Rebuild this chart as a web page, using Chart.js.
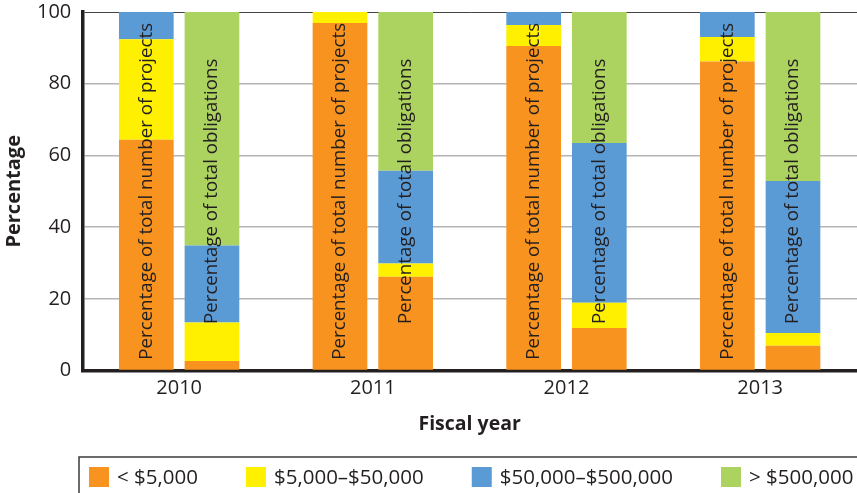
<!DOCTYPE html>
<html>
<head>
<meta charset="utf-8">
<script src="https://cdn.jsdelivr.net/npm/chart.js@4.4.1/dist/chart.umd.min.js"></script>
<style>
  html, body { margin: 0; padding: 0; background: #fff; }
  #wrap { width: 857px; height: 493px; }
</style>
</head>
<body>
<div id="wrap"><canvas id="fundChart" width="857" height="493"></canvas></div>
<script>
const years = ['2010', '2011', '2012', '2013'];
const sizeClasses = ['< $5,000', '$5,000\u2013$50,000', '$50,000\u2013$500,000', '> $500,000'];
const classColors = ['#f7931e', '#fff000', '#5b9bd5', '#acd35f'];

// share of total number of projects, by size class
const projUnder5k = [64.4, 96.9, 90.5, 86.2];
const proj5kTo50k = [28.0, 3.1, 5.9, 6.8];
const proj50kTo500k = [7.6, 0, 3.6, 7.0];
const projOver500k = [0, 0, 0, 0];

// share of total obligations, by size class
const oblUnder5k = [2.7, 26.2, 11.9, 6.9];
const obl5kTo50k = [10.7, 3.7, 7.0, 3.6];
const obl50kTo500k = [21.5, 25.8, 44.6, 42.4];
const oblOver500k = [65.1, 44.3, 36.5, 47.1];

const yTicks = [0, 20, 40, 60, 80, 100];
const barLabels = ['Percentage of total number of projects', 'Percentage of total obligations'];

const textFont = "'Open Sans', 'Noto Sans', sans-serif";
const ink = '#231f20';

function makeSet(label, data, idx, stack) {
  return {
    label: label,
    data: data,
    stack: stack,
    backgroundColor: classColors[idx],
    borderWidth: 0,
    categoryPercentage: 0.678,
    barPercentage: 0.833
  };
}

const datasets = [
  makeSet(sizeClasses[0], projUnder5k, 0, 'projects'),
  makeSet(sizeClasses[1], proj5kTo50k, 1, 'projects'),
  makeSet(sizeClasses[2], proj50kTo500k, 2, 'projects'),
  makeSet(sizeClasses[3], projOver500k, 3, 'projects'),
  makeSet(sizeClasses[0], oblUnder5k, 0, 'obligations'),
  makeSet(sizeClasses[1], obl5kTo50k, 1, 'obligations'),
  makeSet(sizeClasses[2], obl50kTo500k, 2, 'obligations'),
  makeSet(sizeClasses[3], oblOver500k, 3, 'obligations')
];

// vertical captions inside each bar column
const barTextPlugin = {
  id: 'barText',
  afterDatasetsDraw(chart) {
    const ctx = chart.ctx;
    const yMid = chart.scales.y.getPixelForValue(50);
    const firstOfStack = [0, 4];
    ctx.save();
    ctx.font = '18.7px ' + textFont;
    ctx.fillStyle = ink;
    ctx.textAlign = 'center';
    ctx.textBaseline = 'middle';
    firstOfStack.forEach((dsIndex, s) => {
      chart.getDatasetMeta(dsIndex).data.forEach(bar => {
        ctx.save();
        ctx.translate(bar.x, yMid);
        ctx.rotate(-Math.PI / 2);
        ctx.fillText(barLabels[s], 0, 0);
        ctx.restore();
      });
    });
    ctx.restore();
  }
};

// boxed legend row along the bottom (one entry per size class)
const legendRowPlugin = {
  id: 'legendRow',
  afterDraw(chart) {
    const ctx = chart.ctx;
    const top = chart.height - 36;
    const midY = top + 20;
    ctx.save();
    ctx.strokeStyle = '#3a3a3a';
    ctx.lineWidth = 1.5;
    ctx.beginPath();
    ctx.moveTo(79, chart.height + 2);
    ctx.lineTo(79, top);
    ctx.lineTo(chart.width + 2, top);
    ctx.stroke();

    ctx.font = '20.5px ' + textFont;
    ctx.textBaseline = 'middle';
    ctx.textAlign = 'left';
    let x = 89;
    sizeClasses.forEach((label, i) => {
      ctx.fillStyle = classColors[i];
      ctx.fillRect(x, midY - 10, 20, 20);
      ctx.fillStyle = ink;
      ctx.fillText(label, x + 28, midY + 1);
      x += 28 + ctx.measureText(label).width + 48;
    });
    ctx.restore();
  }
};

new Chart(document.getElementById('fundChart').getContext('2d'), {
  type: 'bar',
  data: { labels: years, datasets: datasets },
  plugins: [barTextPlugin, legendRowPlugin],
  options: {
    responsive: false,
    animation: false,
    layout: { padding: { top: 1, right: -3, left: 0, bottom: 36 } },
    plugins: {
      tooltip: { enabled: false },
      legend: { display: false }
    },
    scales: {
      x: {
        stacked: true,
        grid: { display: false, drawTicks: false },
        border: { color: ink, width: 3.5 },
        ticks: { color: ink, font: { family: textFont, size: 20 }, padding: 6 },
        title: {
          display: true,
          text: 'Fiscal year',
          color: ink,
          font: { family: textFont, size: 19.5, weight: 'bold' },
          padding: { top: 6, bottom: 21 }
        }
      },
      y: {
        stacked: true,
        min: 0,
        max: 100,
        afterBuildTicks: axis => { axis.ticks = yTicks.map(v => ({ value: v })); },
        // only leave room for half of the "100" label above the plot
        afterFit: axis => { axis.paddingTop = 12; },
        grid: {
          color: c => (c.tick && c.tick.value === 100 ? '#444' : '#b4b4b4'),
          lineWidth: c => (c.tick && c.tick.value === 100 ? 1 : 1.5),
          drawTicks: false
        },
        border: { color: ink, width: 3.5 },
        ticks: { color: ink, font: { family: textFont, size: 20 }, padding: 11 },
        title: {
          display: true,
          text: 'Percentage',
          color: ink,
          font: { family: textFont, size: 20, weight: 'bold' },
          padding: { top: 2, bottom: 0 }
        }
      }
    }
  }
});
</script>
</body>
</html>
